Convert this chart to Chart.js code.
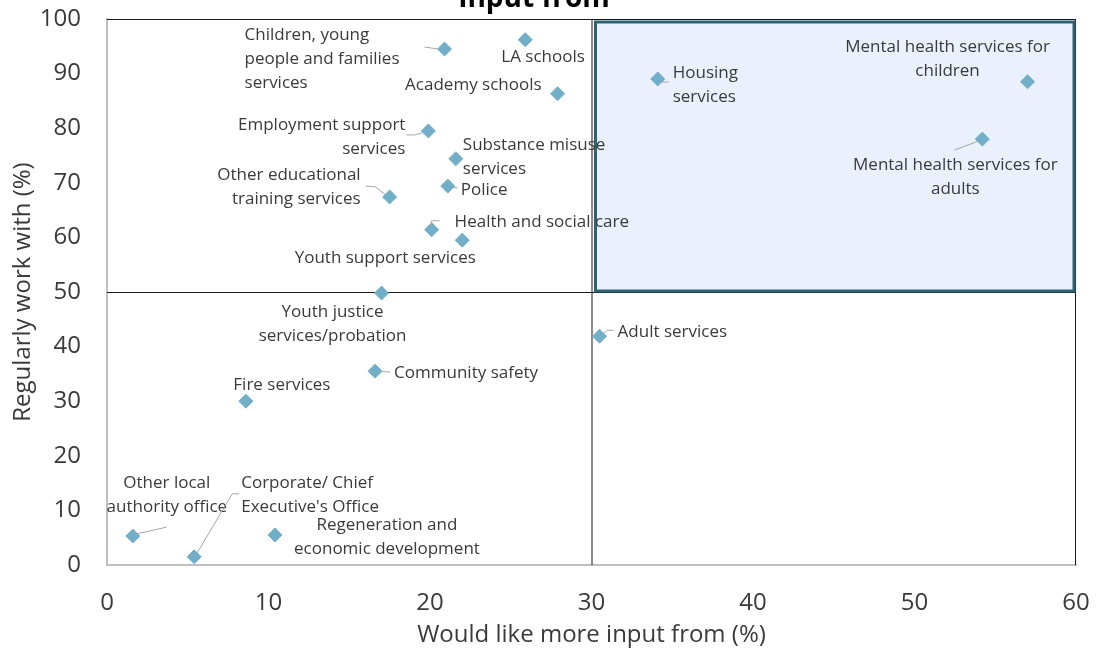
<!DOCTYPE html>
<html lang="en">
<head>
  <meta charset="UTF-8" />
  <title>Input from</title>
  <style>
    html, body { margin: 0; padding: 0; background: #fff; }
    canvas { display: block; }
  </style>
</head>
<body>
  <canvas id="chart" width="1099" height="650"></canvas>

  <script src="https://cdn.jsdelivr.net/npm/chart.js"></script>
  <script>
    // services and their survey percentages
    const services = [
      ['Children, young', 'people and families', 'services'],
      ['LA schools'],
      ['Academy schools'],
      ['Housing', 'services'],
      ['Mental health services for', 'children'],
      ['Mental health services for', 'adults'],
      ['Employment support', 'services'],
      ['Substance misuse', 'services'],
      ['Police'],
      ['Other educational', 'training services'],
      ['Health and social care'],
      ['Youth support services'],
      ['Youth justice', 'services/probation'],
      ['Adult services'],
      ['Community safety'],
      ['Fire services'],
      ['Other local', 'authority office'],
      ['Corporate/ Chief', "Executive's Office"],
      ['Regeneration and', 'economic development']
    ];
    const moreInput = [20.9, 25.9, 27.9, 34.1, 57.0, 54.2, 19.9, 21.6, 21.1, 17.5, 20.1, 22.0, 17.0, 30.5, 16.6, 8.6, 1.6, 5.4, 10.4];
    const workWith  = [94.5, 96.2, 86.3, 89.0, 88.5, 78.0, 79.5, 74.4, 69.4, 67.4, 61.4, 59.5, 49.8, 41.9, 35.5, 30.0, 5.3, 1.5, 5.5];
    const xTicks = [0, 10, 20, 30, 40, 50, 60];
    const yTicks = [0, 10, 20, 30, 40, 50, 60, 70, 80, 90, 100];

    // where each label sits relative to its marker (px), plus optional leader line
    const labelLayout = [
      { dx: -200, dy: -14, align: 'left',   leader: [[-6, 0], [-20, -2]] },
      { dx: -24,  dy: 17,  align: 'left' },
      { dx: -16,  dy: -9,  align: 'right' },
      { dx: 15,   dy: -6,  align: 'left',   leader: [[4, 3], [11, 3]] },
      { dx: -80,  dy: -35, align: 'center' },
      { dx: -27,  dy: 26,  align: 'center', leader: [[-4, 2], [-28, 11]] },
      { dx: -23,  dy: -6,  align: 'right',  leader: [[-6, 2], [-14, 4], [-22, 4]] },
      { dx: 7,    dy: -14, align: 'left' },
      { dx: 13,   dy: 4,   align: 'left',   leader: [[4, 1], [10, 2]] },
      { dx: -29,  dy: -22, align: 'right',  leader: [[-4, -2], [-14, -10], [-24, -11]] },
      { dx: 23,   dy: -8,  align: 'left',   leader: [[0, -2], [0, -9], [8, -9]] },
      { dx: -77,  dy: 18,  align: 'center' },
      { dx: -49,  dy: 19,  align: 'center' },
      { dx: 18,   dy: -4,  align: 'left',   leader: [[3, -2], [8, -6], [14, -6]] },
      { dx: 19,   dy: 2,   align: 'left',   leader: [[4, 0], [15, 1]] },
      { dx: 36,   dy: -16, align: 'center' },
      { dx: 34,   dy: -53, align: 'center', leader: [[3, -2], [34, -9]] },
      { dx: 47,   dy: -74, align: 'left',   leader: [[3, -4], [38, -63], [45, -63]] },
      { dx: 112,  dy: -10, align: 'center' }
    ];

    const FONT = "'Open Sans', 'Noto Sans', sans-serif";
    const TEXT = '#3a3a3a';

    const points = moreInput.map((x, i) => ({ x: x, y: workWith[i] }));

    // quadrant lines, frame and the highlighted top-right box
    const quadrants = {
      id: 'quadrants',
      beforeDatasetsDraw(chart) {
        const { ctx, chartArea: a, scales: { x, y } } = chart;
        const mx = x.getPixelForValue(30), my = y.getPixelForValue(50);
        ctx.save();
        ctx.strokeStyle = '#1a1a1a';
        ctx.lineWidth = 1;
        ctx.beginPath();
        ctx.moveTo(a.left, a.top + 0.5); ctx.lineTo(a.right, a.top + 0.5);
        ctx.moveTo(a.right - 0.5, a.top); ctx.lineTo(a.right - 0.5, a.bottom);
        ctx.moveTo(a.left, my + 0.5); ctx.lineTo(a.right, my + 0.5);
        ctx.moveTo(mx + 0.5, a.top); ctx.lineTo(mx + 0.5, a.bottom);
        ctx.stroke();

        const bx = x.getPixelForValue(30) + 4, by = y.getPixelForValue(100) + 3;
        const bw = x.getPixelForValue(60) - 2 - bx, bh = my - 1 - by;
        ctx.fillStyle = '#eaf1fd';
        ctx.fillRect(bx, by, bw, bh);
        ctx.strokeStyle = '#2f6273';
        ctx.lineWidth = 3;
        ctx.strokeRect(bx, by, bw, bh);
        ctx.restore();
      }
    };

    // data labels with grey leader lines
    const pointLabels = {
      id: 'pointLabels',
      afterDatasetsDraw(chart) {
        const { ctx, scales: { x, y } } = chart;
        ctx.save();
        ctx.font = '17px ' + FONT;
        ctx.textBaseline = 'middle';
        points.forEach((p, i) => {
          const px = x.getPixelForValue(p.x), py = y.getPixelForValue(p.y);
          const lay = labelLayout[i];
          if (lay.leader) {
            ctx.strokeStyle = '#a6a6a6';
            ctx.lineWidth = 1;
            ctx.beginPath();
            lay.leader.forEach(([lx, ly], k) => {
              if (k === 0) ctx.moveTo(px + lx, py + ly);
              else ctx.lineTo(px + lx, py + ly);
            });
            ctx.stroke();
          }
          ctx.fillStyle = TEXT;
          ctx.textAlign = lay.align;
          services[i].forEach((line, k) => {
            ctx.fillText(line, px + lay.dx, py + lay.dy + k * 24);
          });
        });
        ctx.restore();
      }
    };

    // chart title, sitting right at the top edge
    const topTitle = {
      id: 'topTitle',
      afterDraw(chart) {
        const { ctx } = chart;
        ctx.save();
        ctx.font = 'bold 28px ' + FONT;
        ctx.fillStyle = '#000';
        ctx.textAlign = 'center';
        ctx.textBaseline = 'alphabetic';
        ctx.fillText('Input from', 534, 7);
        ctx.restore();
      }
    };

    new Chart(document.getElementById('chart'), {
      type: 'scatter',
      data: {
        datasets: [{
          data: points,
          pointStyle: 'rectRot',
          pointRadius: 7,
          pointHoverRadius: 7,
          backgroundColor: '#71afc9',
          borderColor: '#71afc9',
          borderWidth: 1
        }]
      },
      options: {
        responsive: false,
        animation: false,
        devicePixelRatio: 1,
        layout: { padding: { top: 19, right: 23, left: 0, bottom: 0 } },
        plugins: {
          legend: { display: false },
          tooltip: { enabled: false }
        },
        scales: {
          x: {
            type: 'linear',
            min: 0, max: 60,
            afterBuildTicks: s => { s.ticks = xTicks.map(v => ({ value: v })); },
            afterFit: s => {
              s.height = 85;
              s.paddingLeft = 0;
              s.paddingRight = 0;
            },
            grid: { display: false, drawTicks: false },
            border: { display: true, color: '#bfbfbf', width: 2 },
            ticks: { color: TEXT, font: { family: FONT, size: 24 }, padding: 24 },
            title: {
              display: true,
              text: 'Would like more input from (%)',
              color: TEXT,
              font: { family: FONT, size: 24 },
              padding: { top: 0, bottom: 0 }
            }
          },
          y: {
            type: 'linear',
            min: 0, max: 100,
            afterBuildTicks: s => { s.ticks = yTicks.map(v => ({ value: v })); },
            afterFit: s => {
              s.width = 107;
              s.paddingTop = 0;
              s.paddingBottom = 0;
            },
            grid: { display: false, drawTicks: false },
            border: { display: true, color: '#bfbfbf', width: 2 },
            ticks: { color: TEXT, font: { family: FONT, size: 24 }, padding: 26 },
            title: {
              display: true,
              text: 'Regularly work with (%)',
              color: TEXT,
              font: { family: FONT, size: 24 },
              padding: { top: 9, bottom: 0 }
            }
          }
        }
      },
      plugins: [quadrants, pointLabels, topTitle]
    });
  </script>
</body>
</html>
